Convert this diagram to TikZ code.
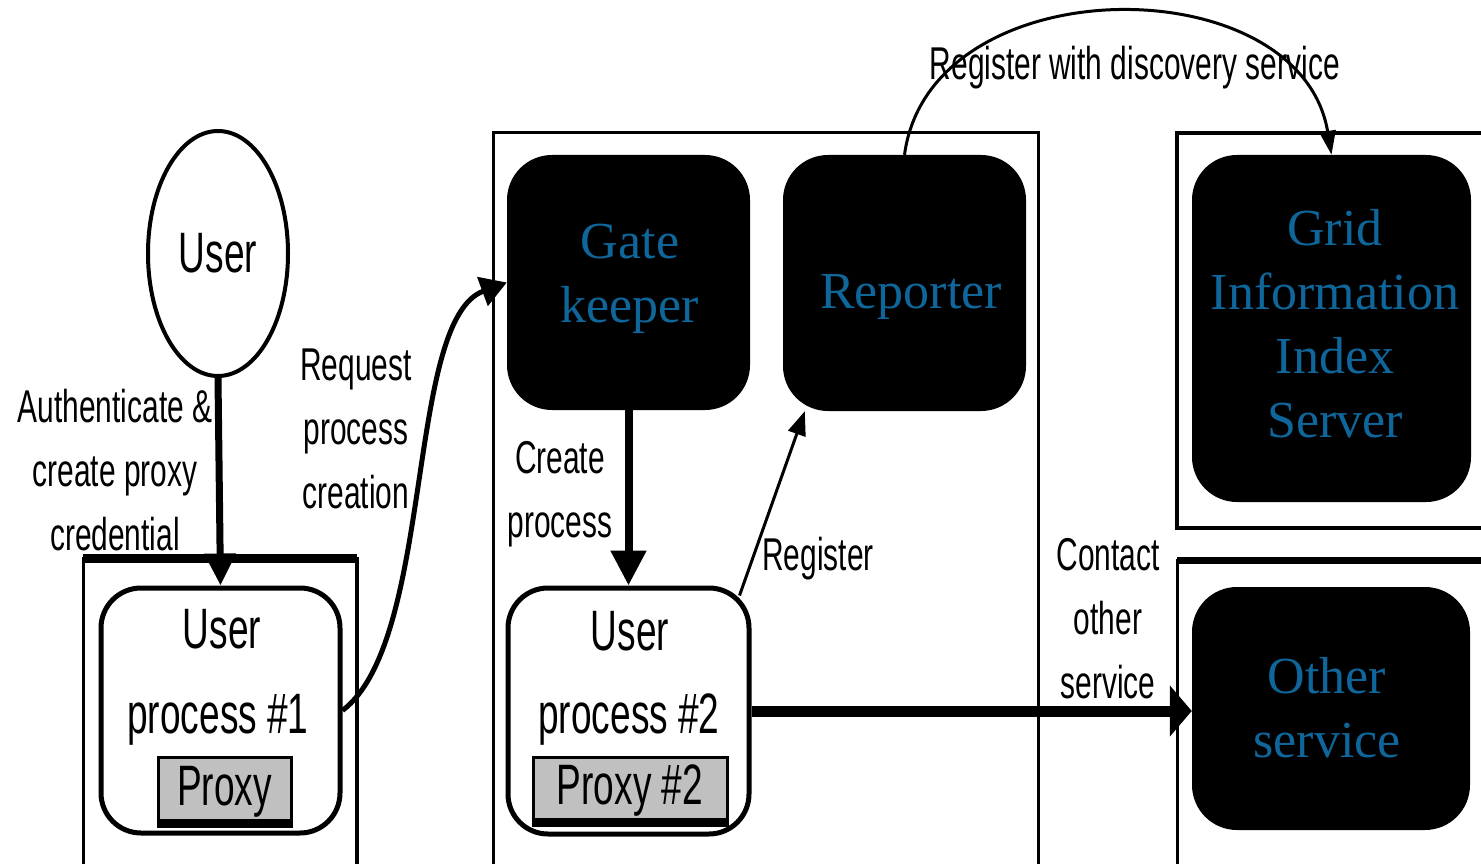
\documentclass[tikz,border=0pt]{standalone}
\usepackage{fontspec}
\setmainfont{Liberation Serif}
\newfontfamily\narrowsans[FakeStretch=0.65]{Liberation Sans}
\usetikzlibrary{arrows.meta,calc,shapes.geometric}
\definecolor{svcblue}{RGB}{14,102,155}
\definecolor{proxygray}{RGB}{192,192,192}

\tikzset{
  frame/.style={draw, line width=3pt},
  lbl/.style={font=\narrowsans\fontsize{46}{64}\selectfont, align=center, inner sep=0pt, anchor=base},
  biglbl/.style={font=\narrowsans\fontsize{57}{85}\selectfont, inner sep=0pt, anchor=base},
  svc/.style={fill=black, rounded corners=45pt, inner sep=0pt},
  svctext/.style={text=svcblue, font=\fontsize{52}{64}\selectfont, align=center,
                  inner sep=0pt, anchor=base},
  proc/.style={draw, line width=5pt, rounded corners=40pt, inner sep=0pt},
  proxybox/.style={draw, fill=proxygray, line width=3pt, inner sep=0pt,
                   font=\narrowsans\fontsize{57}{64}\selectfont},
  flow/.style={line width=#1},
}

\begin{document}
\begin{tikzpicture}[x=1pt, y=-1pt]
\useasboundingbox (0,0) rectangle (1481,864);
\clip (0,0) rectangle (1481,864);

% host frames
\draw[frame] (83,558) rectangle (357,880);
\draw[line width=9pt] (83,558) -- (357,558);
\draw[line width=4pt] (357,558) -- (357,880);
\draw[frame] (493,133) rectangle (1038,880);
\draw[frame, line width=4pt] (1177,133) rectangle (1500,528);
\draw[frame] (1177,560) rectangle (1500,880);
\draw[line width=7pt] (1177,560) -- (1500,560);

% user
\node[draw, ellipse, line width=4pt, minimum width=140pt, minimum height=245pt, inner sep=0pt,
      font=\narrowsans\fontsize{57}{64}\selectfont] (user) at (218,253.5) {User};

% services (text anchored on the baseline of the last line)
\node[svc, minimum width=243pt, minimum height=255pt] (gk) at (628.5,282.5) {};
\node[svctext] (gkt) at (630,322) {Gate\\keeper};
\node[svc, minimum width=243pt, minimum height=256pt] (rep) at (904.5,283) {};
\node[svctext] (rept) at (911,308) {Reporter};
\node[svc, minimum width=279pt, minimum height=347pt] (giis) at (1331.5,328.5) {};
\node[svctext] (giist) at (1335,437) {Grid\\Information\\Index\\Server};
\node[svc, minimum width=278pt, minimum height=243pt] (other) at (1331,708.5) {};
\node[svctext] (othert) at (1327,757) {Other\\service};

% user processes
\node[proc, minimum width=239pt, minimum height=245pt] (up1) at (220.5,710.5) {};
\node[biglbl] (up1a) at (222,648) {User};
\node[biglbl] (up1b) at (218,733) {process \#1};
\node[proxybox, minimum width=133pt, minimum height=69pt] (px1) at (224.5,791.5) {Proxy};
\draw[line width=9pt] ($(px1.south west)+(0,-4)$) -- ($(px1.south east)+(0,-4)$);

\node[proc, minimum width=241pt, minimum height=246pt] (up2) at (628.5,711) {};
\node[biglbl] (up2a) at (630,650) {User};
\node[biglbl] (up2b) at (629,733) {process \#2};
\node[proxybox, minimum width=194pt, minimum height=68pt] (px2) at (630,791) {Proxy \#2};
\draw[line width=9pt] ($(px2.south west)+(0,-4)$) -- ($(px2.south east)+(0,-4)$);

% connectors
\draw[flow=7pt, -{Triangle[length=32pt,width=30pt]}] (user.south) -- (up1.north);
\draw[flow=8pt, -{Triangle[length=35pt,width=34pt]}] (gk.south) -- (up2.north);
\draw[flow=5pt, -{Triangle[length=26pt,width=30pt]}]
  (up1.east) .. controls (435,640) and (405,320) .. (gk.west);
\draw[flow=3pt, -{Triangle[length=24pt,width=18pt]}]
  ($(up2.north east)+(-12,10)$) -- ($(rep.south west)+(22,0)$);
\draw[flow=11pt, -{Triangle[length=22pt,width=50pt]}] (up2.east) -- (up2.east -| other.west);
\draw[flow=3pt, -{Triangle[length=24pt,width=16pt]}]
  (rep.north) .. controls (930,-35) and (1300,-35) .. (giis.north);

% labels (anchored on the baseline of their last line)
\node[lbl] (lauth) at (115,550) {Authenticate \&\\create proxy\\credential};
\node[lbl] (lreq) at (356,508) {Request\\process\\creation};
\node[lbl] (lcreate) at (560,537) {Create\\process};
\node[lbl] (lreg) at (818,570) {Register};
\node[lbl] (lcontact) at (1108,698) {Contact\\other\\service};
\node[lbl] (ldisc) at (1135,80) {Register with discovery service};
\end{tikzpicture}
\end{document}
